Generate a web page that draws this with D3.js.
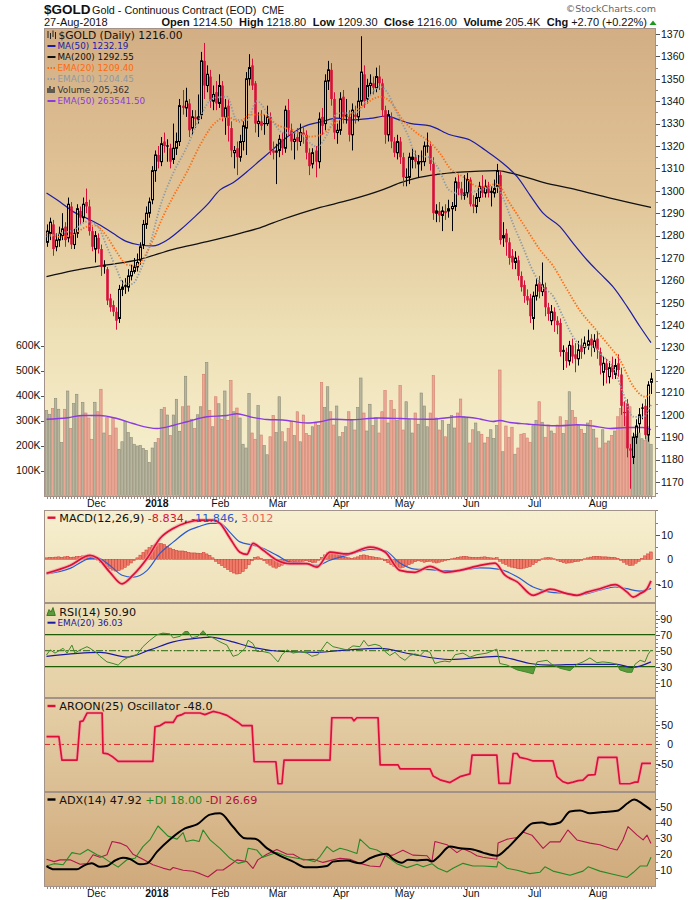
<!DOCTYPE html>
<html><head><meta charset="utf-8">
<script src="https://cdn.jsdelivr.net/npm/d3@7"></script>
<style>body{margin:0;background:#fff}svg{display:block}</style>
</head><body><svg id="c" width="700" height="900"></svg>
<script>
// ---------------- DATA ----------------
const opens=[1277,1281,1285,1275,1278,1280,1284,1279,1293,1276,1281,1291,1288,1295,1293,1282,
1274,1279,1274,1267,1265,1252,1249,1246,1243,1256,1258,1257,1262,1264,1266,1269,1276,1285,1290,1296,
1309,1316,1313,1322,1320,1319,1314,1319,1322,1338,1337,1339,1328,1333,1332,1334,1358,1347,1351,1340,1344,
1339,1347,1333,1338,1328,1317,1319,1315,1322,1328,1350,1356,1348,1330,1331,1330,1330,1333,1318,
1318,1318,1323,1319,1336,1327,1322,1324,1322,1326,1325,1317,1312,1318,1313,1333,1330,1349,1354,1341,1326,
1327,1342,1334,1333,1325,1334,1333,1340,1352,1341,1347,1348,1346,1351,1348,1336,1325,1333,1322,1317,1322,
1315,1306,1306,1314,1315,1312,1313,1313,1320,1320,1312,1290,1291,1289,1291,1291,1292,1293,1304,1301,1298,1299,
1305,1294,1293,1297,1302,1299,1302,1300,1299,1302,1307,1279,1281,1277,1271,1268,1269,1262,1258,1253,1252,
1243,1253,1259,1255,1257,1248,1242,1246,1242,1241,1229,1228,1224,1231,1227,1225,1231,1230,1231,1234,1230,
1234,1228,1219,1223,1217,1222,1218,1223,1218,1201,1205,1185,1181,1190,1196,1203,1204,1191,1214.5];
const highs=[1285,1288,1287,1281,1284,1290,1286,1297,1295,1283,1294,1293,1297,1301,1296,1284,
1282,1281,1276,1269,1266,1254,1251,1248,1258,1260,1261,1265,1267,1270,1272,1277,1287,1293,1297,1311,
1318,1320,1324,1326,1323,1321,1330,1326,1341,1345,1346,1341,1336,1336,1343,1362,1366,1356,1354,1347,1349,
1352,1349,1341,1341,1331,1320,1322,1325,1331,1353,1361,1359,1349,1335,1336,1334,1338,1335,1322,
1321,1325,1326,1338,1341,1330,1326,1328,1330,1329,1327,1319,1319,1320,1335,1337,1352,1358,1357,1344,1330,
1344,1345,1341,1336,1339,1338,1346,1369,1356,1350,1352,1351,1355,1356,1350,1338,1336,1335,1324,1325,1324,
1317,1310,1317,1319,1318,1316,1318,1322,1326,1322,1315,1294,1295,1293,1294,1296,1295,1306,1307,1304,1307,1308,
1306,1298,1299,1304,1307,1305,1304,1302,1305,1312,1309,1286,1283,1279,1274,1273,1271,1264,1260,1256,1254,
1255,1261,1262,1268,1259,1250,1249,1248,1244,1243,1231,1230,1233,1234,1232,1233,1234,1235,1238,1236,1236,
1237,1230,1226,1225,1224,1226,1225,1227,1221,1206,1207,1187,1192,1198,1203,1205,1207,1215,1218.8];
const lows=[1275,1278,1271,1273,1275,1278,1275,1277,1274,1274,1279,1285,1286,1290,1280,1273,
1268,1272,1262,1263,1249,1246,1244,1238,1241,1253,1254,1255,1260,1263,1264,1267,1274,1283,1288,1294,
1304,1310,1311,1317,1313,1310,1312,1316,1320,1334,1333,1324,1325,1328,1330,1332,1341,1344,1337,1336,1336,
1337,1331,1325,1322,1315,1310,1307,1313,1318,1316,1347,1345,1326,1324,1327,1325,1329,1316,1314,
1303,1315,1316,1317,1325,1318,1314,1318,1320,1321,1314,1307,1310,1306,1310,1325,1327,1345,1338,1323,1321,
1325,1330,1330,1322,1318,1330,1331,1338,1337,1339,1343,1343,1344,1345,1333,1321,1322,1319,1315,1314,1312,
1302,1302,1303,1310,1310,1306,1309,1311,1317,1309,1287,1286,1286,1282,1287,1288,1282,1291,1298,1296,1296,1297,
1293,1290,1290,1295,1297,1297,1297,1293,1297,1299,1276,1275,1271,1267,1265,1265,1260,1255,1250,1249,1241,
1238,1251,1252,1253,1244,1242,1240,1237,1236,1226,1220,1221,1222,1223,1219,1222,1225,1227,1229,1226,1228,
1225,1218,1213,1214,1214,1216,1216,1217,1200,1195,1181,1167,1178,1187,1192,1198,1189,1188,1209.3];
const closes=[1282,1286,1274,1278,1281,1283,1278,1294,1276,1281,1292,1288,1294,1293,1282,1275,
1280,1274,1266,1266,1251,1248,1246,1242,1256,1257,1257,1262,1264,1266,1268,1275,1285,1290,1295,1309,
1316,1313,1321,1320,1320,1313,1319,1322,1338,1337,1340,1327,1333,1332,1333,1358,1347,1352,1340,1343,1339,
1347,1333,1337,1329,1318,1318,1315,1322,1329,1350,1355,1347,1330,1331,1329,1330,1333,1318,1317,
1317,1323,1319,1336,1328,1322,1323,1322,1326,1325,1317,1311,1317,1313,1332,1329,1349,1354,1341,1326,1327,
1341,1333,1333,1325,1336,1333,1340,1353,1340,1347,1348,1346,1351,1348,1336,1325,1334,1322,1317,1322,1315,
1306,1306,1315,1315,1313,1313,1313,1320,1320,1312,1290,1291,1289,1291,1290,1292,1293,1304,1301,1298,1299,1305,
1294,1293,1297,1302,1299,1302,1299,1299,1301,1309,1278,1280,1277,1270,1268,1270,1262,1257,1253,1251,1244,
1253,1258,1255,1258,1248,1245,1246,1242,1240,1228,1228,1224,1231,1226,1225,1229,1228,1232,1233,1231,1233,
1229,1222,1223,1220,1221,1219,1222,1220,1204,1201,1185,1184,1190,1195,1200,1203,1191,1213.3,1216];
// volume in thousands
const volumes=[340,325,348,388,345,212,345,418,268,368,405,315,372,330,310,225,373,335,425,250,
312,240,308,270,185,215,297,252,232,205,198,200,188,180,132,190,212,228,345,352,
322,240,322,385,257,355,477,358,305,268,323,355,485,532,340,275,395,367,305,418,
300,460,335,350,310,205,190,408,250,225,360,242,200,163,235,320,252,395,255,215,
268,295,240,335,215,322,248,240,275,288,280,452,352,435,335,282,358,235,252,275,335,
300,262,352,470,330,258,365,280,312,250,335,420,290,380,345,300,440,262,375,305,
250,330,285,410,358,275,330,480,310,262,300,235,285,320,270,330,
386,315,310,210,263,290,255,245,210,233,263,228,280,502,
175,278,233,273,165,190,245,248,230,213,282,300,375,293,233,282,258,248,282,315,
248,300,415,340,313,280,265,248,290,300,265,230,190,263,210,218,240,258,315,348,
372,315,355,235,243,250,227,220,275,205];
// indicator readings: [trading-day index, value]
const ma50Pts=[[0,1299],[4.5,1295],[8.8,1290.7],[13.4,1287.7],[17.7,1284.7],[22,1281],[26.6,1277.3],[30.9,1275.8],[35.2,1275.4],[39.9,1278],[44.2,1282.5],[48.5,1287.7],[53.1,1293.7],[57.4,1300.4],[61.7,1303.6],[66.3,1308.5],[70.6,1313.5],[74.9,1318.5],[79.6,1324],[84.8,1328.5],[91.5,1331],[96.1,1332.4],[100.4,1331.6],[107,1332.3],[112.7,1333.4],[116,1332],[120.3,1330.1],[126.9,1329],[133.5,1325],[140.1,1322.7],[145.1,1318.2],[151,1312.3],[155.7,1306.3],[160,1298],[164.3,1290],[169.9,1284],[174.2,1276.6],[178.9,1269],[183.2,1263],[187.4,1257.2],[192.1,1248.3],[196.4,1239.3],[200,1232.19]];
const ma200Pts=[[0,1261.7],[8.8,1264.4],[20,1266.9],[30.9,1269.4],[41.9,1273.9],[53.1,1277.3],[64,1281],[70.6,1283.5],[78.2,1287.3],[89.5,1292.2],[100.4,1295.9],[111.3,1300.5],[116.9,1303.5],[122.6,1305.8],[129.2,1307.3],[136.8,1308.3],[149,1309],[153.3,1308],[164.3,1303.8],[175.5,1300.4],[186.5,1296.7],[200,1292.55]];
const ema20Pts=[[0,1281],[4.5,1279.5],[8.8,1280.5],[13.4,1284],[16,1284.5],[20,1279.5],[23.3,1272.5],[26.6,1267],[29.9,1266.5],[31.9,1269.5],[35.2,1278],[38.5,1288.4],[41.9,1297.4],[46.5,1308.5],[50.8,1320.4],[55.1,1329.4],[59.7,1333],[64,1330.8],[67.3,1334],[71.6,1334],[76.3,1329.4],[81.6,1327.1],[87.2,1324.2],[91.5,1325.5],[96.1,1331],[100.4,1334],[104.7,1338],[110.4,1342],[113.6,1340],[117.9,1331.6],[122.6,1325.7],[125.9,1322.7],[130.2,1316.7],[133.5,1310],[137.8,1306.3],[143.4,1301.6],[149,1303],[153.3,1294.4],[159,1282.5],[163.3,1273.6],[167.6,1266.5],[172.2,1256],[176.5,1246.5],[180.8,1239.5],[185.4,1232],[189.7,1224.5],[194,1213],[198,1208.1],[200,1209.4]];
const ema10Pts=[[0,1279.5],[4.5,1281],[8.8,1282.5],[13.4,1286.2],[16.7,1284.5],[20,1275],[23.3,1264.6],[25.3,1259],[28.3,1258.4],[30.9,1264],[34.2,1276],[37.6,1293],[41.9,1307.8],[46.5,1319.7],[50.8,1333],[55.1,1341.3],[59.7,1342],[63,1331.6],[66.3,1331.6],[69.6,1340],[73.9,1333],[78.2,1326],[82.9,1325.7],[89.5,1319.7],[92.8,1325],[96.1,1334.5],[102.7,1335],[106,1340.5],[110.4,1346.5],[112.7,1344],[116,1334.5],[119.3,1325.7],[122.6,1315.5],[125.9,1315.2],[129.2,1311],[133.5,1300],[137.8,1298.5],[142.4,1300],[149,1301.8],[151,1297],[154.3,1285.5],[157.6,1275],[161,1264],[164.3,1257],[167.6,1253],[170.9,1243.8],[174.2,1234.9],[177.5,1230.4],[180.8,1230.4],[184.1,1226],[187.4,1221.5],[190.7,1210],[194,1199.2],[197.3,1199],[200,1204.45]];
const volEmaPts=[[0,305],[7,311],[12,320],[17.7,320],[23.3,308],[28.6,288],[36.6,268],[41.9,280],[46.5,295],[53.1,315],[59.7,320],[63,327],[67.3,315],[73,304],[78.2,302],[86.2,290],[90.5,295],[94.8,305],[100.4,303],[110,310],[117,308],[126.9,305],[136.8,315],[143.4,306],[147.7,296],[150,300],[153.3,292],[159,286],[164.3,281],[169.9,279],[175.5,283],[180.8,278],[186.5,268],[192.1,272],[197.3,272],[200,263.5]];
const macdPts=[[0,-5.7],[7.8,-2.5],[14.4,1.6],[16.7,0.6],[21,-5.3],[25,-10],[28.6,-6.5],[33.3,0.4],[37.6,8.6],[41.9,12.6],[46.5,15],[50.8,16],[55.1,16],[57.4,14.7],[60.7,8.6],[64,2.9],[66.3,2],[68.3,6.5],[71.6,3.8],[76.3,-0.4],[80.5,-1.8],[86.2,-1.8],[89.5,-3.2],[93.8,2.9],[99.4,2.2],[107,5],[112,3],[116.9,-4.5],[121.9,-5.3],[126.9,-2.9],[131.8,-5.3],[136.8,-4.5],[143.4,-2.5],[148.4,-1.6],[151.7,-6.5],[155.7,-9.2],[161,-14.7],[163.9,-13.4],[166.6,-12.2],[172.2,-14],[175.5,-14.7],[178.8,-13.4],[183.1,-12],[188.1,-10.3],[192.1,-13.4],[194.1,-15.4],[196.4,-14],[198.7,-12],[200,-8.834]];
const signalPts=[[0,-6],[7.8,-3.7],[14.4,0.4],[16.7,0.6],[21,-2.5],[25,-6.5],[28.6,-7.3],[33.3,-4.5],[37.6,2.5],[41.9,7],[46.5,11.4],[50.8,13.5],[54.2,14.7],[57.4,14.7],[60.7,11],[64,7.1],[68.3,5.8],[71.6,4.5],[76.3,1.6],[80.5,-1.1],[86.2,-1.8],[89.5,-2.5],[93.8,-0.4],[99.4,1.6],[107,4],[112,3.5],[116.9,-1.5],[121.9,-4],[126.9,-4.2],[131.8,-4.6],[136.8,-4.5],[143.4,-3.5],[150,-4.1],[155.7,-7.1],[161,-11.3],[163.9,-12.6],[166.6,-13.4],[172.2,-14],[175.5,-14.7],[178.8,-14],[183.1,-12.6],[188.1,-11.3],[192.1,-12],[194.1,-12.6],[196.4,-13],[200,-11.846]];
const histVals=[0.6,0.8,0.7,0.9,1.0,0.8,1.0,1.2,0.8,0.9,1.1,1.2,1.4,1.6,1.3,0.8,
0.4,-0.3,-1.2,-2.2,-3.0,-3.8,-4.4,-4.8,-4.6,-4.0,-3.3,-2.4,-1.5,-0.5,0.6,1.7,
2.8,3.8,4.8,5.6,6.2,6.5,6.4,6.0,5.3,4.6,4.0,3.6,3.4,3.4,3.2,2.8,2.6,2.6,2.5,2.4,2.8,2.2,1.6,0.6,
-0.8,-1.8,-2.6,-3.4,-4.2,-5.0,-5.6,-6.0,-5.8,-5.0,-3.8,-2.2,-0.6,0.8,
1.0,0.4,-0.6,-1.6,-2.4,-3.2,-3.6,-3.0,-2.4,-1.8,
-1.2,-0.8,-1.0,-1.4,-1.2,-0.8,-0.6,-1.0,-1.4,-1.2,
-0.4,0.8,1.8,2.6,3.0,2.8,2.4,1.8,1.4,0.8,0.6,
0.4,0.6,1.0,1.6,1.8,1.5,1.2,1.0,0.8,0.6,0.2,-0.6,
-1.4,-2.2,-2.9,-3.4,-3.6,-3.3,-2.8,-2.2,-1.6,-1.0,-0.6,-0.8,-1.2,-1.0,
-0.8,-1.2,-1.5,-1.2,-0.8,-0.5,-0.2,0.2,0.5,0.8,1.0,1.2,1.1,0.9,
0.8,0.7,0.8,0.9,1.0,0.8,0.6,0.5,0.7,-0.8,
-1.6,-2.2,-2.8,-3.2,-3.5,-3.8,-3.9,-3.6,-3.3,-3.0,-2.2,-1.4,-0.6,
0.2,0.6,0.8,0.6,0.2,-0.4,-1.0,
-1.4,-1.6,-1.5,-1.3,-1.0,-0.8,-0.4,0.2,
0.6,0.9,1.1,1.2,1.1,1.0,1.0,0.9,0.8,0.7,0.4,
-0.4,-1.2,-2.0,-2.6,-2.4,-1.6,-0.8,
0.4,1.4,2.2,3.0];
const rsiPts=[[0,44.6],[1.2,51],[2.8,47],[5.5,53],[6.8,47],[8.4,57],[9.4,47],[11.1,51],[13.4,55],[14.4,53],[16.7,47],[17.7,43],[20,36],[22,34],[23.7,32],[25.3,38],[27.6,43],[29.9,45],[31.9,55],[34.2,63],[36.6,70],[38.5,72],[40.9,71],[41.9,66],[44.2,68],[45.8,74],[46.8,74],[48.1,66],[50.1,68],[51.8,75],[53.4,68],[55.1,66],[57.4,61],[59.7,57],[61.7,43],[63.4,45],[65.7,53],[66.7,63],[68.3,59],[69.6,49],[71.6,49],[73.9,47],[74.9,43],[76.6,36],[77.9,45],[79.6,51],[81.6,47],[83.9,49],[86.2,47],[87.8,43],[89.8,45],[92.8,61],[94.8,55],[97.1,53],[99.4,51],[101.4,56],[103.7,55],[105,63],[106.4,56],[108.7,58],[110.4,56],[112,49],[113.6,44],[115.3,48],[116.9,42],[118.6,38],[120.3,44],[121.9,46],[123.6,44],[125.2,50],[126.9,48],[128.5,34],[130.2,36],[131.8,37],[133.5,36],[135.2,45],[137.8,47],[140.1,42],[142.4,45],[145.7,47],[149,52],[150,34],[152.4,32],[155.7,26],[159,23],[161,21],[162.3,36],[165.6,38],[167.2,33],[169.9,28],[173.2,25],[175.5,33],[177.5,36],[179.8,41],[182.1,35],[184.1,36],[186.5,35],[188.8,33],[189.7,26],[192.1,23],[193.7,23],[194.7,33],[196.4,38],[198,36],[199,45],[200,50.9]];
const rsiEmaPts=[[0,43],[17.7,48],[26.6,42],[34.2,51],[41.9,61],[50.8,66],[54.2,67],[60.7,62],[67.3,55],[78.2,49],[89.5,48],[99.4,51],[110.4,53],[120.3,46],[133.5,39],[149,43],[155.7,38],[160,34],[166.6,32],[177.5,33],[188.8,33],[193.7,29],[200,36.03]];
const aroonPts=[[0,20],[4.1,20],[5.1,-40],[10.1,-40],[11.1,58],[12.1,60],[13.4,80],[18.4,80],[18.7,-22],[20.3,-24],[22,-32],[23.7,-43],[35.2,-43],[35.9,45],[37.6,48],[39.2,56],[41.9,56],[43.2,72],[44.8,76],[45.8,80],[50.8,80],[52.4,76],[55.1,84],[57.4,80],[59.7,74],[61.7,64],[63.4,56],[64.7,48],[68,48],[68.7,-44],[75.9,-44],[76.6,-100],[77.9,-100],[78.6,-40],[93.8,-40],[94.4,68],[101,68],[101.7,60],[102.7,68],[109.7,68],[110.4,-52],[116.3,-52],[117,-62],[126.9,-62],[127.9,-80],[130.2,-90],[133.5,-97],[136.8,-82],[140.1,-75],[140.8,-27],[149,-27],[149.7,-99],[153.3,-99],[154.4,-23],[155.7,-23],[156.6,-33],[159,-37],[161,-42],[167.6,-42],[168.9,-82],[170.9,-95],[172.5,-99],[174.2,-96],[175.9,-92],[177.5,-91],[179.2,-78],[181.5,-77],[182.5,-33],[188.7,-33],[189.7,-100],[193,-100],[194.7,-96],[195.7,-96],[197,-48],[200,-48]];
const adxPts=[[0,12.5],[2.5,10.4],[6.8,10.4],[10.1,10.4],[12.1,12.5],[15,14.2],[17.7,12],[20,12.5],[22.7,16],[25.3,17.7],[27.6,17],[30.9,13.6],[33.3,14.2],[36.6,21.6],[40.9,29.4],[45.8,36.3],[49.8,38.8],[54.1,45],[57.4,45.8],[61.7,37.3],[65.7,30],[69,29.7],[73,23.7],[77.3,18.9],[81.6,15.3],[85.5,11.8],[89.5,11.8],[92.8,12.5],[94.8,15.3],[99.4,16],[103.7,14.2],[107,17.4],[110.3,19.6],[112.6,20.2],[114.6,17],[117.6,14.6],[119.6,16.5],[122.6,16],[125.9,16.5],[127.5,15.3],[129.5,18],[133.5,24.8],[136.8,23.7],[141.1,23],[144.4,21],[149,19],[152.4,23.7],[156.6,32],[160.9,39.5],[163.9,40],[166.6,38.8],[169.9,40],[173.2,47],[176.5,47.6],[179.8,45.8],[184.1,46.6],[188.8,47.4],[192.1,52],[194.4,54.6],[197.4,51.5],[200,47.92]];
const pdiPts=[[0,12.5],[2.5,14],[5.5,13.3],[8.4,21],[11.1,20],[13.7,23],[16.7,19.6],[18.7,18],[21,15],[23.7,11.8],[26.6,16.5],[29.3,17.4],[31.9,24.8],[34.2,29],[36.9,37.8],[40.2,31.4],[43.2,29.5],[45.2,33.6],[46.2,28],[48.5,29],[50.5,28],[51.8,35.3],[54.1,29],[57.4,23.7],[60.7,17.4],[63.4,14.2],[65.7,15.3],[66.7,23.7],[69.6,22.6],[71.6,18],[73.9,19.6],[76.2,21],[79.6,18.5],[82.9,17.4],[86.2,16.5],[88.8,15.3],[90.5,18.5],[92.8,24.8],[94.8,21.6],[97.1,23.7],[99.4,22.6],[102.7,20.4],[103.7,29.5],[107,23.7],[109.3,22.6],[111.3,20.4],[115.9,14],[119.3,11.5],[122.6,13.6],[124.6,12],[127.5,14],[129.5,11.1],[132.5,8.7],[134.5,11.1],[137.8,14.2],[141.1,12.5],[144.4,12.5],[149,12],[149.4,15.3],[152.4,11.1],[155.7,9.8],[159.9,7.7],[163.3,8.6],[164.9,12],[167.6,9.3],[173.2,6.7],[177.5,9.3],[179.2,12],[183.1,9.3],[187.4,7.3],[192.1,5.3],[194.1,8.4],[196.4,12.5],[198.7,12.5],[200,18]];
const mdiPts=[[0,16.8],[2.5,15.3],[4.5,16.4],[7.8,16.4],[11.1,13.6],[13.4,14],[15.4,19.6],[17.7,18],[20,19.6],[21.7,28],[24.3,27],[26.6,25],[28.6,20],[31.9,16.8],[35.2,13.3],[38.5,11.2],[40.9,10],[41.9,11.6],[45.2,9.8],[48.5,9.2],[50.8,7.7],[53.4,5.6],[56.4,10],[58.4,10],[60.7,13],[63,16.4],[66.3,15.3],[68.3,11],[69.9,16.4],[72.9,20],[76.2,23],[79.6,20],[81.6,20],[84.9,16.4],[88.2,16.8],[91.5,14.8],[94.8,16.4],[97.1,17.4],[100.4,16.8],[103.7,14.2],[107,12.5],[110.3,12.1],[112,19],[114.6,19.4],[117.9,22.5],[121.2,19.4],[125.9,19],[127.5,15.3],[128.5,28],[132.5,26],[135.8,21],[137.8,23.5],[140.1,21.6],[142.4,19],[144.4,18.1],[149,16.8],[149.4,27],[152.4,29.5],[155.7,30.5],[157.6,34],[160.6,32],[164.3,23.7],[166.6,27.8],[169.9,27.8],[172.5,35.3],[175.5,29],[179.8,27],[183.1,26],[186.4,23.7],[188.8,22.6],[190.7,29],[192.4,37.4],[195.4,32],[197.4,29],[198.7,32],[200,26.69]];
// axis labels
const monthLabels=["Dec","2018","Feb","Mar","Apr","May","Jun","Jul","Aug"];
const monthStarts=[16,36,57,76,97,118,140,161,182];
const priceTicks=[1170,1180,1190,1200,1210,1220,1230,1240,1250,1260,1270,1280,1290,1300,1310,1320,1330,1340,1350,1360,1370];
const volTicks=[100,200,300,400,500,600];
const macdTicks=[-10,0,10];
const rsiTicks=[10,30,50,70,90];
const aroonTicks=[-50,0,50];
const adxTicks=[10,20,30,40,50];

// ---------------- CHART ----------------
const svg=d3.select('#c');
const AX='Liberation Sans, Arial, sans-serif', LG='DejaVu Sans, Verdana, sans-serif';
const RED='#d6103a', BORDER='#a2928a';
const n=closes.length, L=44, R=656;
const P={price:[28,497],macd:[510,603],rsi:[603,698],aroon:[698,792],adx:[792,887]};
const x=d3.scaleBand().domain(d3.range(n)).range([45,652.5]);
const bw=x.bandwidth();
const xc=i=>x(i)+bw/2;
const xl=d3.scaleLinear().domain([0,n-1]).range([xc(0),xc(n-1)]);
const yP=d3.scaleLinear().domain([1170,1370]).range([482,34]);
const yV=d3.scaleLinear().domain([0,600]).range([495.5,345.5]);
const yM=d3.scaleLinear().domain([-10,10]).range([583.8,534.8]);
const yR=d3.scaleLinear().domain([10,90]).range([682.7,618.7]);
const yA=d3.scaleLinear().domain([-50,50]).range([764.1,724.8]);
const yD=d3.scaleLinear().domain([10,50]).range([870,806.7]);

const defs=svg.append('defs');
function grad(id,y1,y2,stops){const g=defs.append('linearGradient').attr('id',id).attr('gradientUnits','userSpaceOnUse').attr('x1',0).attr('x2',0).attr('y1',y1).attr('y2',y2);
 stops.forEach(s=>g.append('stop').attr('offset',s[0]).attr('stop-color',s[1]));}
grad('gP',28,497,[[0,'#d3ae84'],[0.35,'#e0c497'],[0.65,'#eee0b6'],[1,'#f8f2d2']]);
grad('gL',510,887,[[0,'#f6efcf'],[0.3,'#ecdcb4'],[0.65,'#dfc59b'],[1,'#cfa97b']]);
Object.entries(P).forEach(([k,v])=>{defs.append('clipPath').attr('id','cl_'+k).append('rect').attr('x',L).attr('y',v[0]).attr('width',R-L).attr('height',v[1]-v[0]);});

// backgrounds
svg.append('rect').attr('x',L).attr('y',P.price[0]).attr('width',R-L).attr('height',P.price[1]-P.price[0]).attr('fill','url(#gP)');
svg.append('rect').attr('x',L).attr('y',P.macd[0]).attr('width',R-L).attr('height',P.adx[1]-P.macd[0]).attr('fill','url(#gL)');

// header
svg.append('text').attr('x',44).attr('y',14).attr('font-family',AX).attr('font-size',13.5).attr('font-weight','bold').attr('fill','#111').text('$GOLD');
svg.append('text').attr('x',92).attr('y',13.5).attr('font-family',AX).attr('font-size',10.8).attr('fill','#111').text('Gold - Continuous Contract (EOD)');
svg.append('text').attr('x',262).attr('y',13.5).attr('font-family',AX).attr('font-size',10).attr('fill','#111').text('CME');
svg.append('text').attr('x',44).attr('y',26).attr('font-family',AX).attr('font-size',11).attr('fill','#111').text('27-Aug-2018');
svg.append('text').attr('x',656).attr('y',12).attr('text-anchor','end').attr('font-family',LG).attr('font-size',9.5).attr('fill','#666').text('\u00A9StockCharts.com');
const hd=svg.append('text').attr('x',647).attr('y',26).attr('text-anchor','end').attr('font-family',AX).attr('font-size',11).attr('fill','#111');
[['Open',1,0],[' 1214.50',0,0],['High',1,6.5],[' 1218.80',0,0],['Low',1,6.5],[' 1209.30',0,0],['Close',1,6.5],[' 1216.00',0,0],['Volume',1,6.5],[' 205.4K',0,0],['Chg',1,6.5],[' +2.70 (+0.22%)',0,0]]
 .forEach(p=>hd.append('tspan').attr('dx',p[2]).attr('font-weight',p[1]?'bold':'normal').text(p[0]));
svg.append('polygon').attr('points','649.5,25 656.5,25 653,20.5').attr('fill','#1a9a1a');

// ---- volume ----
const gVol=svg.append('g').attr('clip-path','url(#cl_price)');
volumes.forEach((v,i)=>{const up=i===0||closes[i]>=closes[i-1];
 gVol.append('rect').attr('x',x(i)+0.3).attr('y',yV(v)).attr('width',bw-0.6).attr('height',yV(0)-yV(v))
 .attr('fill',up?'#b7b59e':'#eaa896').attr('stroke',up?'#8e8c78':'#d3806e').attr('stroke-width',0.6);});
const lineF=(ys,curve)=>d3.line().x(d=>xl(d[0])).y(d=>ys(d[1])).curve(curve||d3.curveLinear);
function path(g,data,ys,col,w,opt){opt=opt||{};return g.append('path').datum(data).attr('d',lineF(ys,opt.curve)(data)).attr('fill','none').attr('stroke',col).attr('stroke-width',w).attr('stroke-dasharray',opt.dash||null).attr('stroke-linejoin','round').attr('stroke-linecap',opt.cap||'butt').attr('opacity',opt.op||1);}
path(gVol,volEmaPts,yV,'#8a3be0',1.3,{curve:d3.curveMonotoneX});

// ---- price lines (behind candles: MAs) ----
const gPr=svg.append('g').attr('clip-path','url(#cl_price)');
path(gPr,ma200Pts,yP,'#111',1.3,{curve:d3.curveMonotoneX});
path(gPr,ma50Pts,yP,'#1c1ca6',1.2,{curve:d3.curveMonotoneX});
// candles
closes.forEach((c,i)=>{const o=opens[i],h=highs[i],l=lows[i];const prev=i>0?closes[i-1]:o;
 const col=c<prev?RED:'#000';const cx=Math.round(xc(i))+0.5;
 const yt=yP(Math.max(o,c)),yb=yP(Math.min(o,c));
 if(c>o){
  gPr.append('line').attr('x1',cx).attr('x2',cx).attr('y1',yP(h)).attr('y2',yt).attr('stroke',col).attr('stroke-width',1);
  gPr.append('line').attr('x1',cx).attr('x2',cx).attr('y1',yb).attr('y2',yP(l)).attr('stroke',col).attr('stroke-width',1);
  gPr.append('rect').attr('x',cx-1).attr('y',yt).attr('width',2).attr('height',Math.max(yb-yt,1)).attr('fill','none').attr('stroke',col).attr('stroke-width',1);
 } else {
  gPr.append('line').attr('x1',cx).attr('x2',cx).attr('y1',yP(h)).attr('y2',yP(l)).attr('stroke',col).attr('stroke-width',1);
  if(yb-yt<1.2) gPr.append('line').attr('x1',cx-1.5).attr('x2',cx+1.5).attr('y1',yt).attr('y2',yt).attr('stroke',col).attr('stroke-width',1.2);
  else gPr.append('rect').attr('x',cx-1.3).attr('y',yt).attr('width',2.6).attr('height',yb-yt).attr('fill',col);
 }});
path(gPr,ema20Pts,yP,'#ff6a10',1.8,{curve:d3.curveMonotoneX,dash:'1.3,1.7'});
path(gPr,ema10Pts,yP,'#8d9aa6',1.8,{curve:d3.curveMonotoneX,dash:'1.3,1.7'});

// ---- MACD ----
const gM=svg.append('g').attr('clip-path','url(#cl_macd)');
histVals.forEach((v,i)=>{const y0=yM(0),y1=yM(v);
 gM.append('rect').attr('x',x(i)+0.2).attr('y',Math.min(y0,y1)).attr('width',bw-0.4).attr('height',Math.max(Math.abs(y1-y0),0.6))
 .attr('fill','#f07a68').attr('stroke','#c83a30').attr('stroke-width',0.5);});
path(gM,signalPts,yM,'#2a5cd0',1.2,{curve:d3.curveMonotoneX});
path(gM,macdPts,yM,'#f5a0a8',3.6,{curve:d3.curveMonotoneX,op:0.7});
path(gM,macdPts,yM,'#dc0f36',1.7,{curve:d3.curveMonotoneX});

// ---- RSI ----
const gR=svg.append('g').attr('clip-path','url(#cl_rsi)');
defs.append('clipPath').attr('id','cl_r70').append('rect').attr('x',L).attr('y',P.rsi[0]).attr('width',R-L).attr('height',yR(70)-P.rsi[0]);
defs.append('clipPath').attr('id','cl_r30').append('rect').attr('x',L).attr('y',yR(30)).attr('width',R-L).attr('height',P.rsi[1]-yR(30));
const ar70=d3.area().x(d=>xl(d[0])).y0(yR(70)).y1(d=>yR(d[1]));
const ar30=d3.area().x(d=>xl(d[0])).y0(yR(30)).y1(d=>yR(d[1]));
gR.append('g').attr('clip-path','url(#cl_r70)').append('path').attr('d',ar70(rsiPts)).attr('fill','#5c9a3c');
gR.append('g').attr('clip-path','url(#cl_r30)').append('path').attr('d',ar30(rsiPts)).attr('fill','#5c9a3c');
[70,30].forEach(v=>gR.append('line').attr('x1',L).attr('x2',R).attr('y1',yR(v)).attr('y2',yR(v)).attr('stroke','#1e5c06').attr('stroke-width',1.2));
gR.append('line').attr('x1',L).attr('x2',R).attr('y1',yR(50)).attr('y2',yR(50)).attr('stroke','#2c6a10').attr('stroke-width',1).attr('stroke-dasharray','7,2,2,2');
path(gR,rsiEmaPts,yR,'#1a1aa0',1.2,{curve:d3.curveMonotoneX});
path(gR,rsiPts,yR,'#3d8a28',1);

// ---- Aroon ----
const gA=svg.append('g').attr('clip-path','url(#cl_aroon)');
gA.append('line').attr('x1',L).attr('x2',R).attr('y1',yA(0)).attr('y2',yA(0)).attr('stroke','#e02a2a').attr('stroke-width',1).attr('stroke-dasharray','6,3,2,3');
path(gA,aroonPts,yA,'#f2a0a8',3.6,{op:0.7});
path(gA,aroonPts,yA,'#dc0f36',1.7);

// ---- ADX ----
const gD=svg.append('g').attr('clip-path','url(#cl_adx)');
path(gD,mdiPts,yD,'#b2184a',1.1);
path(gD,pdiPts,yD,'#268a26',1.1);
path(gD,adxPts,yD,'#000',2,{curve:d3.curveMonotoneX});

// ---- borders ----
Object.values(P).forEach(v=>svg.append('rect').attr('x',L+0.5).attr('y',v[0]+0.5).attr('width',R-L-1).attr('height',v[1]-v[0]-1).attr('fill','none').attr('stroke',BORDER).attr('stroke-width',1));

// ---- axes ----
function rightAxis(ticks,ys,minorStep,lo,hi,anchor,xpos){
 const g=svg.append('g').attr('font-family',AX).attr('font-size',10.5).attr('fill','#111');
 for(let v=lo;v<=hi+1e-9;v+=minorStep){g.append('line').attr('x1',R).attr('x2',R+2).attr('y1',Math.round(ys(v))+0.5).attr('y2',Math.round(ys(v))+0.5).attr('stroke','#8a7a72');}
 ticks.forEach(t=>{g.append('line').attr('x1',R).attr('x2',R+4).attr('y1',Math.round(ys(t))+0.5).attr('y2',Math.round(ys(t))+0.5).attr('stroke','#555');
  g.append('text').attr('x',xpos).attr('y',ys(t)+3.8).attr('text-anchor',anchor).text(t);});
}
rightAxis(priceTicks,yP,5,1165,1370,'start',661);
rightAxis(macdTicks,yM,5,-15,20,'end',673);
rightAxis(rsiTicks,yR,5,0,100,'end',672);
rightAxis(aroonTicks,yA,10,-100,100,'end',673);
rightAxis(adxTicks,yD,5,5,55,'end',672);
// volume axis left
const gVA=svg.append('g').attr('font-family',AX).attr('font-size',10.5).attr('fill','#111');
volTicks.forEach(t=>{gVA.append('line').attr('x1',41).attr('x2',44).attr('y1',Math.round(yV(t))+0.5).attr('y2',Math.round(yV(t))+0.5).attr('stroke','#555');
 gVA.append('text').attr('x',40.5).attr('y',yV(t)+3.8).attr('text-anchor','end').text(t+'K');});
// daily ticks + month labels
[P.price[1],P.adx[1]].forEach((yb,k)=>{
 const g=svg.append('g');
 for(let i=0;i<n;i++){g.append('line').attr('x1',Math.round(xc(i))+0.5).attr('x2',Math.round(xc(i))+0.5).attr('y1',yb).attr('y2',yb+2).attr('stroke','#9a8a82');}
 monthLabels.forEach((m,j)=>{g.append('text').attr('x',xc(monthStarts[j])+1.5).attr('y',k===0?507.3:896.5).attr('text-anchor','middle')
  .attr('font-family',AX).attr('font-size',10.5).attr('font-weight',m==='2018'?'bold':'normal').attr('fill','#111').text(m);});
});

// ---- legends ----
const gLg=svg.append('g').attr('font-family',LG);
// price legend
const ic=gLg.append('g').attr('stroke','#222').attr('stroke-width',1);
[[48,31,38],[50.5,33,39],[53,30.5,37],[55.5,32,39]].forEach(b=>ic.append('line').attr('x1',b[0]).attr('x2',b[0]).attr('y1',b[1]).attr('y2',b[2]));
gLg.append('text').attr('x',58.5).attr('y',38.8).attr('font-size',10.7).attr('fill','#111').text('$GOLD (Daily) 1216.00');
const leg=[['MA(50) 1232.19','#1c1ca6',null],['MA(200) 1292.55','#111',null],['EMA(20) 1209.40','#ff6a10','1.5,1.5'],['EMA(10) 1204.45','#8d9aa6','1.5,1.5']];
leg.forEach((d,k)=>{const yc=46+k*11;
 gLg.append('line').attr('x1',47.5).attr('x2',55.5).attr('y1',yc).attr('y2',yc).attr('stroke',d[1]).attr('stroke-width',2).attr('stroke-dasharray',d[2]);
 gLg.append('text').attr('x',57.5).attr('y',yc+3.2).attr('font-size',8.8).attr('fill',d[1]).text(d[0]);});
[[48,88,93],[50,86,93],[52,89,93],[54,87,93]].forEach(b=>gLg.append('rect').attr('x',b[0]-0.8).attr('y',b[1]).attr('width',1.6).attr('height',b[2]-b[1]).attr('fill','#444'));
gLg.append('text').attr('x',57.5).attr('y',93.2).attr('font-size',8.8).attr('fill','#333').text('Volume 205,362');
gLg.append('line').attr('x1',47.5).attr('x2',55.5).attr('y1',101).attr('y2',101).attr('stroke','#8a3be0').attr('stroke-width',2);
gLg.append('text').attr('x',57.5).attr('y',104.2).attr('font-size',8.8).attr('fill','#8a3be0').text('EMA(50) 263541.50');
// MACD legend
gLg.append('line').attr('x1',47.5).attr('x2',55.5).attr('y1',517.7).attr('y2',517.7).attr('stroke','#dc0f36').attr('stroke-width',2.4);
const tm=gLg.append('text').attr('x',59.3).attr('y',521.6).attr('font-size',11.2).attr('fill','#111');
[['MACD(12,26,9) ','#111'],['-8.834','#dc0f36'],[', ','#111'],['-11.846','#2a5cd0'],[', ','#111'],['3.012','#f0605a']].forEach(p=>tm.append('tspan').attr('fill',p[1]).text(p[0]));
// RSI legend
gLg.append('polygon').attr('points','46.8,615.5 49,609.5 51,612 53,607.5 55.3,615.5').attr('fill','#5c9a3c').attr('stroke','#2c6a10').attr('stroke-width',0.8);
gLg.append('text').attr('x',59.3).attr('y',615.6).attr('font-size',11.2).attr('fill','#111').text('RSI(14) 50.90');
gLg.append('line').attr('x1',47.5).attr('x2',55.5).attr('y1',622.7).attr('y2',622.7).attr('stroke','#1a1aa0').attr('stroke-width',2);
gLg.append('text').attr('x',57.5).attr('y',625.9).attr('font-size',8.8).attr('fill','#1a1aa0').text('EMA(20) 36.03');
// Aroon legend
gLg.append('line').attr('x1',47.5).attr('x2',55.5).attr('y1',706).attr('y2',706).attr('stroke','#dc0f36').attr('stroke-width',2.4);
gLg.append('text').attr('x',59.3).attr('y',710).attr('font-size',11.2).attr('fill','#111').text('AROON(25) Oscillator -48.0');
// ADX legend
gLg.append('line').attr('x1',47.5).attr('x2',55.5).attr('y1',799.5).attr('y2',799.5).attr('stroke','#000').attr('stroke-width',2.4);
const td=gLg.append('text').attr('x',59.3).attr('y',803.5).attr('font-size',11.2).attr('fill','#111');
[['ADX(14) 47.92 ','#111'],['+DI 18.00 ','#1f8a1f'],['-DI 26.69','#b0103c']].forEach(p=>td.append('tspan').attr('fill',p[1]).text(p[0]));
</script></body></html>
